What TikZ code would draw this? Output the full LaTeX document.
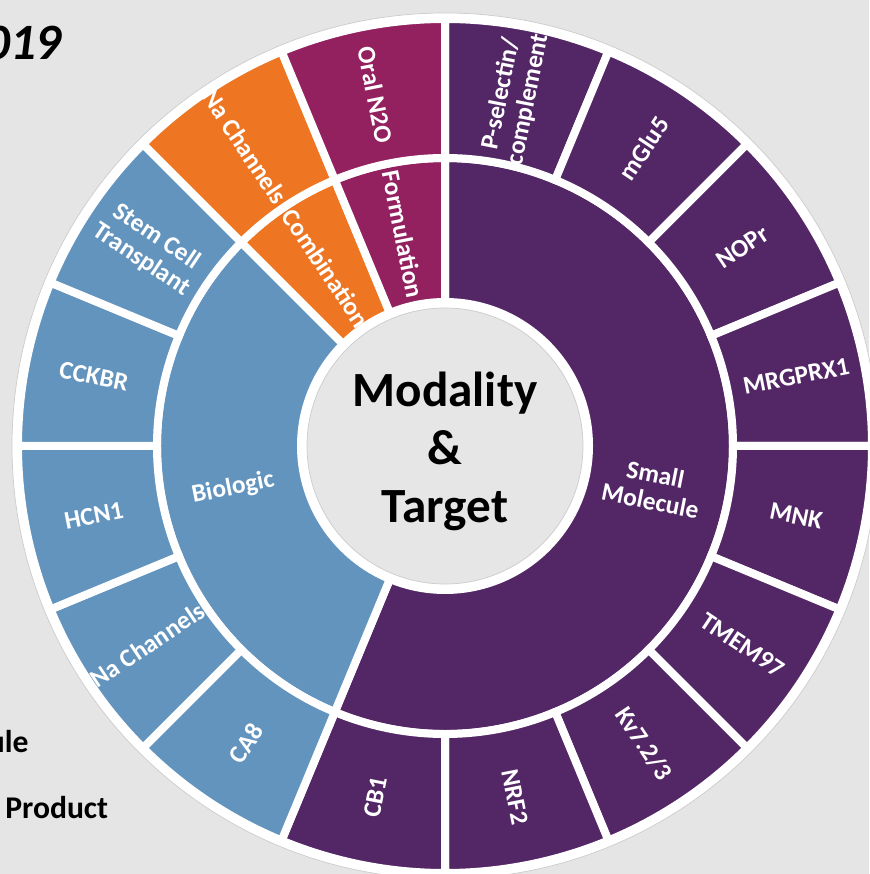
\documentclass[tikz,border=0pt]{standalone}
\usepackage{fontspec}
\setmainfont{Carlito}
\usetikzlibrary{positioning}
\definecolor{bggray}{RGB}{229,229,229}
\definecolor{hubgray}{RGB}{230,230,230}
\definecolor{smpurple}{RGB}{83,39,102}
\definecolor{bioblue}{RGB}{99,148,190}
\definecolor{combiorange}{RGB}{238,118,35}
\definecolor{formmagenta}{RGB}{147,33,96}

\begin{document}
\begin{tikzpicture}[x=0.02cm, y=0.02cm,
		seg/.style={draw=white, line width=0.16cm},
		lbl/.style={text=white, font=\fontsize{14.5}{15.5}\selectfont\bfseries, align=center, inner sep=0pt},
		side/.style={font=\fontsize{18}{20}\selectfont\bfseries, inner sep=0pt}]

		\useasboundingbox[fill=bggray] (-445,-428) rectangle (424,446);

		% text cut off at the left edge
		\node[font=\fontsize{29}{32}\selectfont\bfseries\itshape, inner sep=0pt, anchor=base east] (yr) at (-383,386) {019};
		\node[side, anchor=base east] (sm) at (-416,-306) {ule};
		\node[side, anchor=base west] (np) at (-440,-372) {Product};

		\fill[white, draw=black!20, line width=0.4pt] (0,0) circle (433);

		% inner ring
		\draw[seg, fill=smpurple] (90:144) arc (90:-112.5:144) -- (-112.5:288) arc (-112.5:90:288) -- cycle;
		\draw[seg, fill=bioblue] (-112.5:144) arc (-112.5:-225:144) -- (-225:288) arc (-225:-112.5:288) -- cycle;
		\draw[seg, fill=combiorange] (135:144) arc (135:112.5:144) -- (112.5:288) arc (112.5:135:288) -- cycle;
		\draw[seg, fill=formmagenta] (112.5:144) arc (112.5:90:144) -- (90:288) arc (90:112.5:288) -- cycle;

		% outer ring
		\draw[seg, fill=smpurple] (90:288) arc (90:67.5:288) -- (67.5:427) arc (67.5:90:427) -- cycle;
		\draw[seg, fill=smpurple] (67.5:288) arc (67.5:45:288) -- (45:427) arc (45:67.5:427) -- cycle;
		\draw[seg, fill=smpurple] (45:288) arc (45:22.5:288) -- (22.5:427) arc (22.5:45:427) -- cycle;
		\draw[seg, fill=smpurple] (22.5:288) arc (22.5:0:288) -- (0:427) arc (0:22.5:427) -- cycle;
		\draw[seg, fill=smpurple] (0:288) arc (0:-22.5:288) -- (-22.5:427) arc (-22.5:0:427) -- cycle;
		\draw[seg, fill=smpurple] (-22.5:288) arc (-22.5:-45:288) -- (-45:427) arc (-45:-22.5:427) -- cycle;
		\draw[seg, fill=smpurple] (-45:288) arc (-45:-67.5:288) -- (-67.5:427) arc (-67.5:-45:427) -- cycle;
		\draw[seg, fill=smpurple] (-67.5:288) arc (-67.5:-90:288) -- (-90:427) arc (-90:-67.5:427) -- cycle;
		\draw[seg, fill=smpurple] (-90:288) arc (-90:-112.5:288) -- (-112.5:427) arc (-112.5:-90:427) -- cycle;
		\draw[seg, fill=bioblue] (-112.5:288) arc (-112.5:-135:288) -- (-135:427) arc (-135:-112.5:427) -- cycle;
		\draw[seg, fill=bioblue] (-135:288) arc (-135:-157.5:288) -- (-157.5:427) arc (-157.5:-135:427) -- cycle;
		\draw[seg, fill=bioblue] (-157.5:288) arc (-157.5:-180:288) -- (-180:427) arc (-180:-157.5:427) -- cycle;
		\draw[seg, fill=bioblue] (180:288) arc (180:157.5:288) -- (157.5:427) arc (157.5:180:427) -- cycle;
		\draw[seg, fill=bioblue] (157.5:288) arc (157.5:135:288) -- (135:427) arc (135:157.5:427) -- cycle;
		\draw[seg, fill=combiorange] (135:288) arc (135:112.5:288) -- (112.5:427) arc (112.5:135:427) -- cycle;
		\draw[seg, fill=formmagenta] (112.5:288) arc (112.5:90:288) -- (90:427) arc (90:112.5:427) -- cycle;

		% hub
		\fill[hubgray, draw=black!20, line width=0.4pt] (0,0) circle (138);
		\node[align=center, inner sep=0pt, font=\fontsize{28}{33}\selectfont\bfseries] (hub) at (0,-5) {Modality\\\&\\Target};

		% inner labels
		\node[lbl, rotate=-11.25] (smallmol) at (-11.25:212) {Small\\Molecule};
		\node[lbl, rotate=11.25] (biologic) at (191.25:216) {Biologic};
		\node[lbl, rotate=-56.25] (combi) at (123.75:214) {Combination};
		\node[lbl, rotate=-78.75] (formul) at (101.25:216) {Formulation};

		% outer labels
		\node[lbl, rotate=78.75] (psel) at (78.75:356) {P-selectin/\\complement};
		\node[lbl, rotate=56.25] (mglu) at (56.25:358) {mGlu5};
		\node[lbl, rotate=33.75] (nopr) at (33.75:358) {NOPr};
		\node[lbl, rotate=11.25] (mrgprx) at (11.25:358) {MRGPRX1};
		\node[lbl, rotate=-11.25] (mnk) at (-11.25:358) {MNK};
		\node[lbl, rotate=-33.75] (tmem) at (-33.75:358) {TMEM97};
		\node[lbl, rotate=-56.25] (kv) at (-56.25:358) {Kv7.2/3};
		\node[lbl, rotate=-78.75] (nrf) at (-78.75:358) {NRF2};
		\node[lbl, rotate=78.75] (cb) at (-101.25:358) {CB1};
		\node[lbl, rotate=56.25] (ca) at (-123.75:358) {CA8};
		\node[lbl, rotate=33.75] (nablue) at (-146.25:358) {Na Channels};
		\node[lbl, rotate=11.25] (hcn) at (-168.75:358) {HCN1};
		\node[lbl, rotate=-11.25] (cckbr) at (168.75:358) {CCKBR};
		\node[lbl, rotate=-33.75] (stem) at (146.25:356) {Stem Cell\\Transplant};
		\node[lbl, rotate=-56.25] (naorange) at (123.75:360) {Na Channels};
		\node[lbl, rotate=-78.75] (oral) at (101.25:358) {Oral N2O};
	\end{tikzpicture}
\end{document}
